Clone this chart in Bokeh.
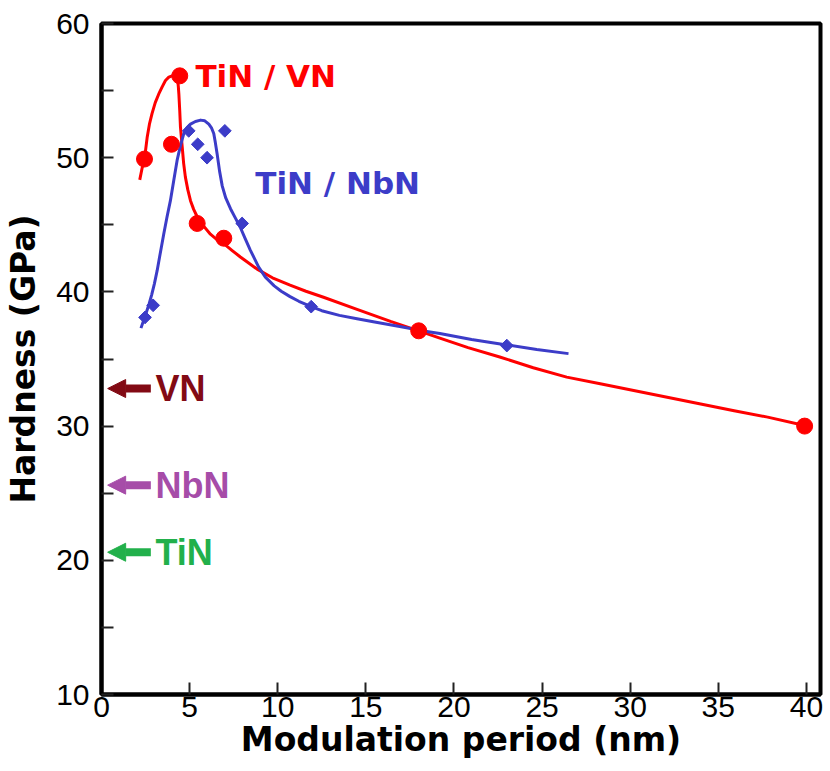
from bokeh.plotting import figure
from bokeh.models import FixedTicker, Arrow, NormalHead, Range1d, Label
from bokeh.embed import file_html
from bokeh.resources import INLINE
import math

# Measured hardness of TiN/VN superlattices
vn_period = [2.44, 3.97, 4.44, 5.43, 6.94, 18.0, 39.9]
vn_hardness = [49.9, 51.0, 56.1, 45.1, 44.0, 37.1, 30.0]

# Measured hardness of TiN/NbN superlattices
nb_period = [2.47, 2.93, 4.95, 5.46, 5.99, 7.0, 7.98, 11.9, 23.0]
nb_hardness = [38.1, 39.0, 52.0, 51.0, 50.0, 52.0, 45.1, 38.9, 36.0]

# Trend curve through the TiN/VN data
vn_fit_x = [2.17, 2.3, 2.44, 2.59, 2.72, 2.87, 3.05, 3.25, 3.45, 3.63, 3.82, 4.01,
            4.12, 4.2, 4.27, 4.32, 4.36, 4.39, 4.44, 4.48, 4.58, 4.66, 4.76, 4.9,
            5.05, 5.23, 5.43, 5.8, 6.18, 6.55, 6.94, 7.4, 7.88, 8.35, 8.83, 9.7,
            10.7, 11.6, 12.6, 14.5, 16.4, 18.0, 19.2, 20.8, 22.6, 24.5, 26.4, 28.3,
            30.2, 32.1, 34.0, 35.9, 37.8, 39.9]
vn_fit_y = [48.35, 49.2, 49.9, 51.5, 52.5, 53.3, 54.1, 54.75, 55.3, 55.75, 56.0, 56.1,
            56.2, 56.2, 56.05, 55.8, 55.3, 54.75, 53.5, 52.3, 50.8, 49.6, 48.55, 47.6,
            46.8, 46.15, 45.6, 44.9, 44.3, 43.9, 43.6, 43.1, 42.6, 42.15, 41.7, 41.05,
            40.5, 40.05, 39.6, 38.7, 37.8, 37.1, 36.55, 35.85, 35.15, 34.35, 33.65, 33.15,
            32.65, 32.15, 31.65, 31.15, 30.67, 30.05]

# Trend curve through the TiN/NbN data
nb_fit_x = [2.24, 2.5, 2.7, 2.85, 3.0, 3.16, 3.35, 3.53, 3.72, 3.91, 4.1, 4.29, 4.48,
            4.67, 4.86, 5.05, 5.33, 5.62, 5.86, 6.09, 6.25, 6.37, 6.45, 6.56, 6.7,
            6.85, 7.05, 7.32, 7.6, 7.88, 8.16, 8.45, 8.92, 9.3, 9.8, 10.2, 10.7,
            11.2, 11.9, 12.5, 13.5, 14.5, 15.5, 17.0, 18.0, 19.2, 21.0, 23.0, 24.7,
            26.5]
nb_fit_y = [37.3, 38.3, 39.1, 39.8, 40.6, 41.6, 43.0, 44.3, 45.6, 46.8, 48.3, 49.8, 50.9,
            51.8, 52.25, 52.5, 52.7, 52.8, 52.75, 52.5, 52.2, 51.8, 51.2, 50.3, 49.0,
            47.9, 47.0, 46.2, 45.5, 44.8, 43.95, 43.1, 41.85, 41.1, 40.45, 40.05, 39.65,
            39.3, 38.9, 38.6, 38.25, 38.0, 37.75, 37.4, 37.15, 36.9, 36.45, 36.05, 35.7,
            35.4]

# Hardness of the single-phase nitrides
ref_names = ["VN", "NbN", "TiN"]
ref_hardness = [32.8, 25.6, 20.6]
ref_colors = ["#820a14", "#a64ca8", "#22b04b"]

x_ticks = [0, 5, 10, 15, 20, 25, 30, 35, 40]
y_ticks = [10, 20, 30, 40, 50, 60]
y_minor = [15, 25, 35, 45, 55]

RED = "#ff0000"
BLUE = "#3c3cc8"

p = figure(width=830, height=771, x_range=Range1d(0, 40.8), y_range=Range1d(10, 60),
           output_backend="svg", toolbar_location=None,
           min_border_left=101, min_border_right=10, min_border_top=23, min_border_bottom=77)

p.xgrid.visible = False
p.ygrid.visible = False
p.outline_line_color = "black"
p.outline_line_width = 4
p.outline_line_alpha = 1.0

p.xaxis.ticker = FixedTicker(ticks=x_ticks)
p.yaxis.ticker = FixedTicker(ticks=y_ticks, minor_ticks=y_minor)

for ax in (p.xaxis[0], p.yaxis[0]):
    ax.axis_line_width = 4
    ax.axis_line_color = "black"
    ax.major_tick_in = 12
    ax.major_tick_out = 0
    ax.minor_tick_in = 12
    ax.minor_tick_out = 0
    ax.major_tick_line_width = 2
    ax.minor_tick_line_width = 2
    ax.major_tick_line_color = "#222222"
    ax.minor_tick_line_color = "#222222"
    ax.major_label_text_font = "Liberation Sans"
    ax.major_label_text_font_size = "30px"
    ax.major_label_text_color = "black"
    ax.axis_label_text_font = "DejaVu Sans"
    ax.axis_label_text_font_style = "bold"
    ax.axis_label_text_font_size = "33px"
    ax.axis_label_text_color = "black"

p.xaxis.axis_label = "Modulation period (nm)"
p.xaxis.major_label_standoff = 2
p.xaxis.axis_label_standoff = 0
p.yaxis.axis_label = "Hardness (GPa)"
p.yaxis.major_label_standoff = 12
p.yaxis.axis_label_standoff = 10

# Trend curves
p.line(vn_fit_x, vn_fit_y, line_color=RED, line_width=3, line_join="round")
p.line(nb_fit_x, nb_fit_y, line_color=BLUE, line_width=3, line_join="round")

# Data points
p.scatter(vn_period, vn_hardness, marker="circle", size=16,
          fill_color=RED, line_color=RED)
p.scatter(nb_period, nb_hardness, marker="square", size=9, angle=math.pi / 4,
          fill_color=BLUE, line_color=BLUE)

# Series labels
p.add_layout(Label(x=5.33, y=56.1, text="TiN / VN", text_color=RED,
                   text_font="DejaVu Sans", text_font_style="bold",
                   text_font_size="31px", text_baseline="alphabetic"))
p.add_layout(Label(x=8.73, y=48.1, text="TiN / NbN", text_color=BLUE,
                   text_font="DejaVu Sans", text_font_style="bold",
                   text_font_size="31px", text_baseline="alphabetic"))

# Arrows marking the hardness of the pure nitrides
for name, h, c in zip(ref_names, ref_hardness, ref_colors):
    p.add_layout(Arrow(end=NormalHead(size=18, fill_color=c, line_color=c),
                       x_start=2.8, y_start=h, x_end=0.35, y_end=h,
                       line_color=c, line_width=8))
    p.add_layout(Label(x=3.06, y=h, text=name, text_color=c,
                       text_font="Liberation Sans", text_font_style="bold",
                       text_font_size="36px", text_baseline="middle"))

open("out.html", "w").write(file_html(p, INLINE))
